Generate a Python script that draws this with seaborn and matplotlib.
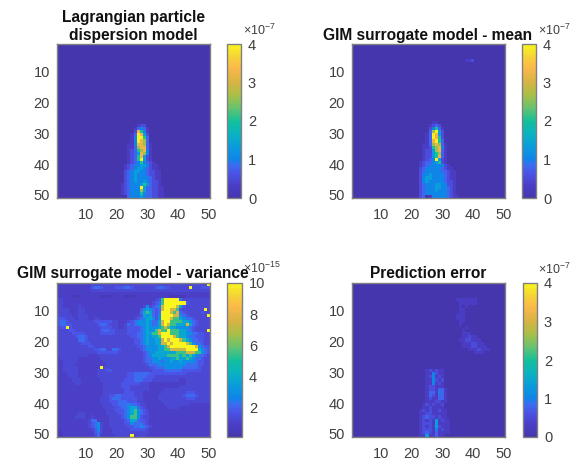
import numpy as np
import pandas as pd
import matplotlib
matplotlib.use("Agg")
import matplotlib.pyplot as plt
from matplotlib.colors import LinearSegmentedColormap
import seaborn as sns

# ---------- chart values (cell code -> value) ----------
titles = ["Lagrangian particle\ndispersion model", "GIM surrogate model - mean",
          "GIM surrogate model - variance", "Prediction error"]
axis_ticks = [10, 20, 30, 40, 50]
cbar_ticks_e7 = [0, 1, 2, 3, 4]
cbar_ticks_e15 = [2, 4, 6, 8, 10]
multipliers = ["×10$^{-7}$", "×10$^{-7}$", "×10$^{-15}$", "×10$^{-7}$"]

levels_e7 = [0.03, 0.25, 0.5, 0.75, 1.05, 1.35, 2.0, 2.6, 3.2, 3.9]
levels_e15 = [0.5, 0.9, 1.3, 1.7, 2.2, 2.9, 3.8, 5.5, 7.5, 10.0]

# plume rows, first character = column 21
lagrangian_rows_27_50 = [
    "000000122", "00000134310", "00000286410", "00001398520", "00001499630", "00001498730",
    "00011488731", "00011378831", "00012367841", "00012358741", "00012368521", "00012369521",
    "000123464321", "00123445542110", "00123455432110", "00234554432211", "00234544432211",
    "00234544443211", "00234544543221", "01234445653221", "012344495332211", "012344475332211",
    "012344464332211", "000344454332211",
]
mean_rows_26_50 = [
    "000000110", "00000123200", "00000246310", "00000379520", "00001398520", "00001398620",
    "00001389630", "00011378731", "00011267841", "00012257831", "00012256731", "00012256831",
    "00012349521", "00123345621", "00123444442100", "00234444432110", "00234444433211",
    "00244544443211", "00245544443211", "00245444443221", "00234445544221", "00234445544321",
    "00234445444321", "00234444444321", "002301444443211",
]
mean_patch_row6_col38 = "112"
error_haze_rows_6_24 = [
    "00001111111", "00000111111", "00000101", "00000110", "000001100", "000011100", "00001110",
    "00000110", "000001000", "00000001", "00000010", "000000111", "00000011211", "000001122111",
    "0000001112211", "00000011122111", "000000001112111", "0000000000111", "00000000000",
]
error_plume_rows_29_50 = [
    "00001212110", "00001142110", "00001241210", "00001142120", "00001141210", "00001221110",
    "00001221331", "00001331431", "00001321331", "00001211331", "00001112211", "00012121120",
    "00011211110", "00121211211", "00112211111", "00123221211", "001212151211", "001222151111",
    "001212152111", "001222141211", "001232131111", "001151131100",
]
variance_rows = [
    "1111111111 1222222222 2222222222 2222222222 2222222229",
    "1111111111 1344322223 3344322222 2234433222 2229222333",
    "1111111111 1222222222 2222222222 2222222222 2222222222",
    "1111111111 1111111111 1111111111 1111111111 1111111111",
    "1111100011 1111000011 1100001111 1111110000 0011111111",
    "2211111111 1111111111 1111111111 1123799999 4222222222",
    "2211111111 1111111111 1111111111 1234799999 9932222222",
    "2211111211 1111111111 1111111125 2345899998 6322222222",
    "2222111221 1111111111 1111111356 5434899887 3222222292",
    "2222111221 1111111111 1111111467 6434999878 4322222322",
    "2222211222 1111111111 1111112365 6435999988 5432222229",
    "3332221222 1122111111 1111123456 6535999877 6544322222",
    "3443222222 2233333322 1112345556 5446899777 7665432222",
    "3443322222 2223443222 1124345556 5446898776 6686432222",
    "2339322222 2222333322 1123333456 5556787665 5554322222",
    "2222332222 2222344332 2223333456 5578779777 6654322229",
    "2222233332 2222333332 2223334456 6778999777 6655443322",
    "2222223443 2222222222 2222334456 5667999987 6654433322",
    "2222222443 2222222222 2222233456 5566898999 8765443322",
    "2222222233 3222222222 2222233456 5566889899 9987544322",
    "2222222222 3322222222 2222223345 5556678999 9999985433",
    "2222222222 2233442244 3222222345 5556677888 8899996543",
    "2222222222 2223333333 2222222234 5566666667 7788877543",
    "2222222222 1112222222 2222222234 5666667777 6767654432",
    "1222222111 1111222222 2222222234 4556555667 6676544322",
    "1122222111 1111122222 2222222234 4555455655 6555543322",
    "1122221111 1111112222 2222222223 4445555555 5544443322",
    "1122222111 1111922222 2222222222 3344455555 5444443222",
    "1122222111 1112223322 2222222222 2333344444 4333333222",
    "1112222111 1112222222 2223344444 3333333333 3322222222",
    "1111222111 1112222222 2223344443 3322222222 2222222222",
    "1111122211 1111222222 2233344433 3222222222 1122222222",
    "1111112211 1111122222 2333333222 1111111111 1122222222",
    "1111111111 1111122222 2333222222 1111111111 2222222222",
    "1111111111 1111122222 2233222222 1111122222 2222222222",
    "1111111111 1111122222 2233322211 1111222222 2233322222",
    "1111111111 1111122334 4333322211 1112222222 2344432222",
    "1111111111 1111222344 4333332211 1112222222 2233322222",
    "1111111111 1111222333 4443332211 1111222222 2222222222",
    "1111111111 1111122233 4445443221 1111122222 2221111111",
    "1111111111 1111122223 3445664321 1111112222 1111111111",
    "1111111111 1111112223 3345675432 1111111111 1111111111",
    "1111111221 1111112222 3345675432 1111111111 1111111111",
    "1111112221 1211111222 2345775322 1111111111 1111111111",
    "1111111111 2441111222 2234664332 1111111111 1111111111",
    "1111111111 2345211222 2233544432 1111111111 1111111111",
    "1111111111 2345211222 2223344543 2111111111 1111111111",
    "0111111111 1235211122 2222333332 1111111111 1111111111",
    "0011111111 1134211122 2222222222 1111111111 1111111111",
    "0011111111 1124111112 2222912221 1111111111 1111111111",
]
cmap_stops = [0.0, 0.08, 0.16, 0.21, 0.25, 0.33, 0.42, 0.5, 0.58, 0.67, 0.75, 0.85, 0.93, 1.0]
cmap_colors = ["#4636AE", "#4B3FC8", "#4A55E8", "#3A6EF0", "#0F85E8", "#0A9CDC", "#0AB4C0",
               "#12C09A", "#62C272", "#A8C048", "#D4B444", "#FBB84A", "#F5D535", "#F9F51E"]


def paint(grid, rows, first_row, first_col, levels):
    for i, row in enumerate(rows):
        for j, ch in enumerate(row):
            grid[first_row - 1 + i, first_col - 1 + j] = levels[int(ch)]


def blank():
    return np.full((50, 50), levels_e7[0])


lagrangian = blank()
paint(lagrangian, lagrangian_rows_27_50, 27, 21, levels_e7)
mean = blank()
paint(mean, mean_rows_26_50, 26, 21, levels_e7)
paint(mean, [mean_patch_row6_col38], 6, 38, levels_e7)
error = blank()
paint(error, error_haze_rows_6_24, 6, 31, levels_e7)
paint(error, error_plume_rows_29_50, 29, 21, levels_e7)
variance = blank()
paint(variance, [r.replace(" ", "") for r in variance_rows], 1, 1, levels_e15)

panels = [lagrangian, mean, variance, error]
ranges = [(0, 4), (0, 4), (0.1, 10), (0, 4)]
cticks = [cbar_ticks_e7, cbar_ticks_e7, cbar_ticks_e15, cbar_ticks_e7]

# ---------- drawing ----------
sns.set_theme(style="white")
plt.rcParams["font.family"] = ["Liberation Sans", "DejaVu Sans"]
plt.rcParams["mathtext.default"] = "regular"
W, H = 577, 462
fig = plt.figure(figsize=(W / 100, H / 100), dpi=100)
cmap = LinearSegmentedColormap.from_list("parula_like", list(zip(cmap_stops, cmap_colors)), N=64)
TXT = "#404040"
FRAME = "#808080"


def rect(l, t, r, b):
    return [l / W, 1 - b / H, (r - l) / W, (b - t) / H]


ax_boxes = [(57, 44, 210, 198), (352, 44, 505, 198), (57, 283, 210, 437), (352, 283, 505, 437)]
cb_boxes = [(227, 44, 241, 198), (522, 44, 536, 198), (227, 283, 242, 437), (523, 283, 537, 437)]
title_px = [(133, 43), (428, 43), (133, 281), (428, 281)]
mult_px = [(243, 30), (538, 30), (243, 268), (538, 269)]
labels = list(range(1, 51))

for k, data in enumerate(panels):
    ax = fig.add_axes(rect(*ax_boxes[k]))
    cax = fig.add_axes(rect(*cb_boxes[k]))
    df = pd.DataFrame(data, index=labels, columns=labels)
    sns.heatmap(df, ax=ax, cbar_ax=cax, cmap=cmap, vmin=ranges[k][0], vmax=ranges[k][1],
                cbar_kws={"ticks": cticks[k]})
    pos = [t - 0.5 for t in axis_ticks]
    ax.set_xticks(pos, [str(t) for t in axis_ticks], rotation=0)
    ax.set_yticks(pos, [str(t) for t in axis_ticks], rotation=0)
    ax.set_xlabel("")
    ax.set_ylabel("")
    ax.tick_params(axis="x", direction="in", length=1.5, width=0.5, color="#333333", labelsize=10.5,
                   labelcolor=TXT, top=True, bottom=True, pad=7)
    ax.tick_params(axis="y", direction="in", length=1.5, width=0.5, color="#333333", labelsize=10.5,
                   labelcolor=TXT, left=True, right=True, pad=5)
    for s in ax.spines.values():
        s.set_visible(True)
        s.set_color(FRAME)
        s.set_linewidth(1.0)
    cax.tick_params(direction="in", length=1.5, width=0.5, color="#333333", labelsize=10.5,
                    labelcolor=TXT, right=True, pad=5)
    cb = ax.collections[0].colorbar
    cb.outline.set_visible(True)
    cb.outline.set_edgecolor(FRAME)
    cb.outline.set_linewidth(1.0)
    fig.text(title_px[k][0] / W, 1 - title_px[k][1] / H, titles[k], ha="center", va="bottom",
             fontsize=11.2, fontweight="bold", color="#111111", linespacing=1.24)
    fig.text(mult_px[k][0] / W, 1 - mult_px[k][1] / H, multipliers[k], ha="left", va="center",
             fontsize=9, color=TXT)

fig.savefig("out.png", dpi=100, facecolor="white")
